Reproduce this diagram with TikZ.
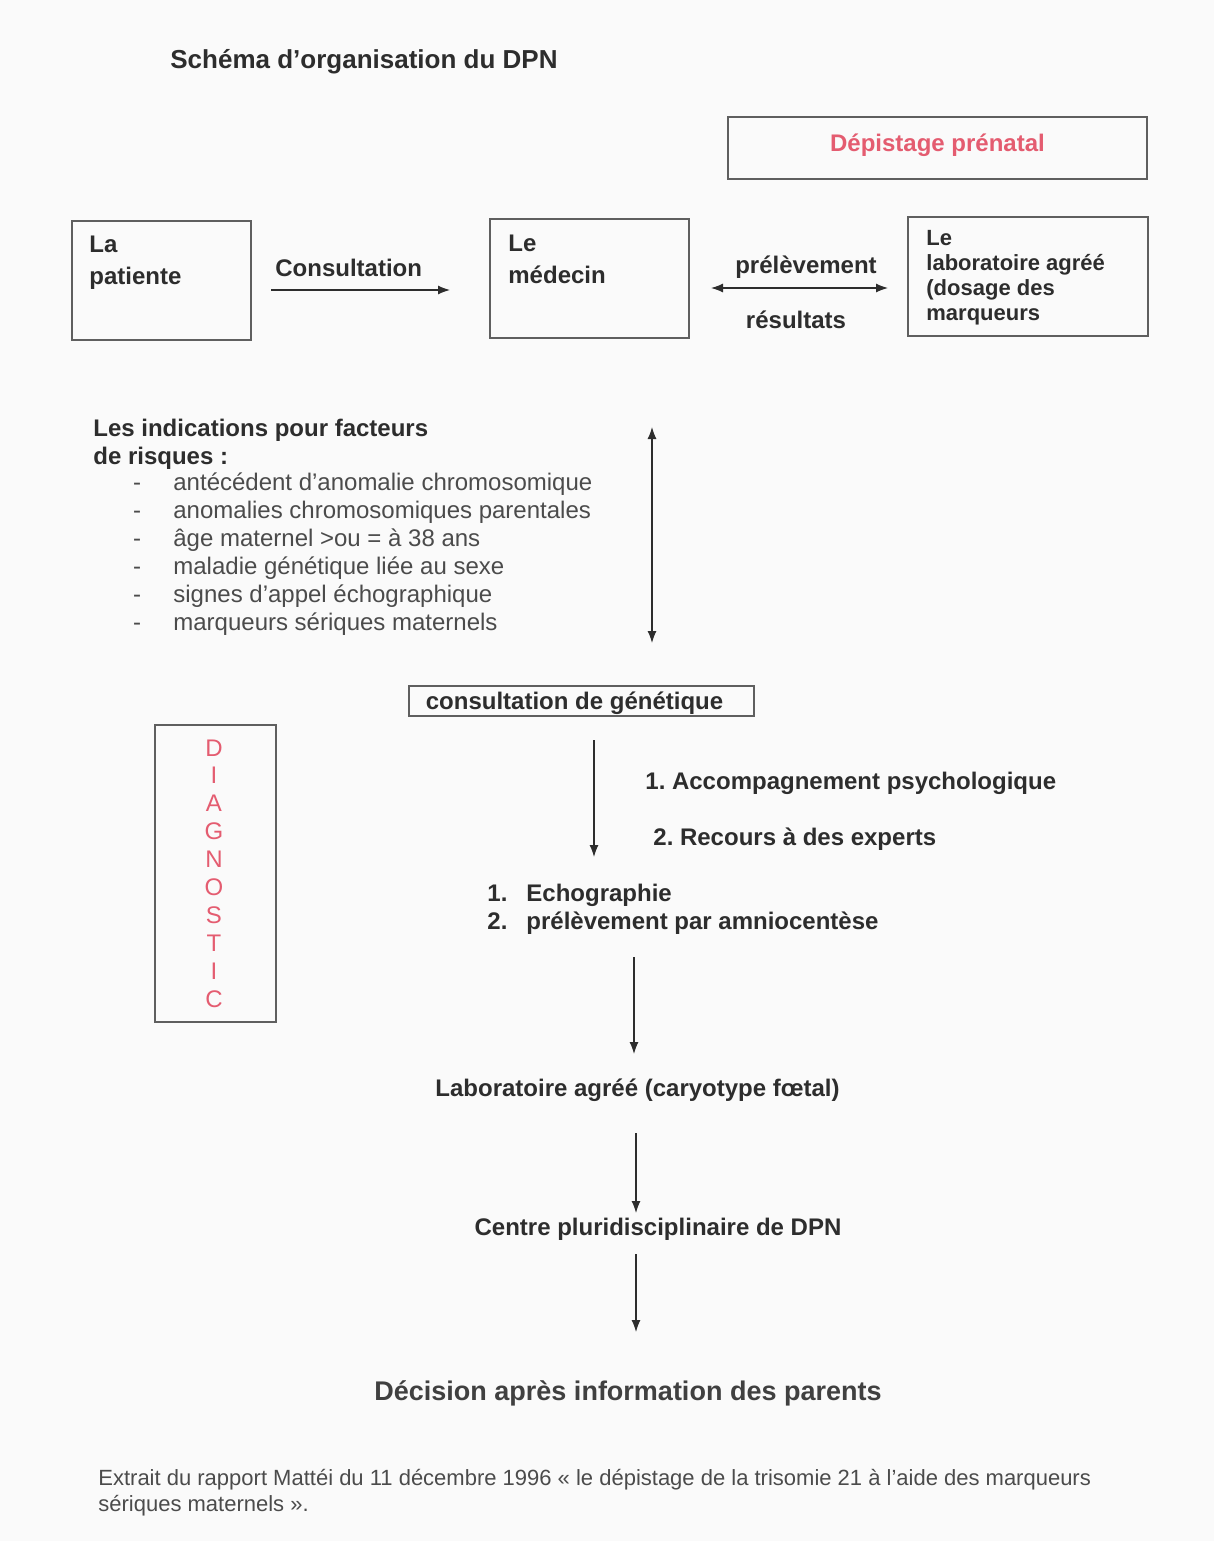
\documentclass[tikz,border=0pt]{standalone}
\usepackage{fontspec}
\setmainfont{Liberation Sans}
\usetikzlibrary{arrows.meta}
\definecolor{ink}{RGB}{45,45,45}
\definecolor{soft}{RGB}{75,75,75}
\definecolor{rose}{RGB}{228,92,112}
\definecolor{boxline}{RGB}{95,95,95}
\definecolor{paper}{RGB}{250,250,250}
\frenchspacing

\begin{document}
\begin{tikzpicture}[x=0.5pt,y=-0.5pt,
    box/.style={draw=boxline,line width=0.75pt,inner sep=0pt},
    heavy/.style={font=\fontsize{12}{16}\selectfont\bfseries,text=ink,inner sep=0pt,align=left},
    lite/.style={font=\fontsize{12}{14}\selectfont,text=soft,inner sep=0pt,anchor=base west},
    arr/.style={-{Latex[length=6pt,width=4.5pt]},line width=0.6pt,draw=ink},
    dbl/.style={{Latex[length=6pt,width=4.5pt]}-{Latex[length=6pt,width=4.5pt]},line width=0.6pt,draw=ink}]
    \fill[paper] (0,0) rectangle (1214,1541);
    \useasboundingbox (0,0) rectangle (1214,1541);
    \node[heavy,font=\fontsize{13}{16}\selectfont\bfseries,anchor=base west] (title) at (170,69) {Schéma d’organisation du DPN};
    \node[box,minimum width=209.5pt,minimum height=31pt] (depist) at (937.5,148) {};
    \node[heavy,text=rose,anchor=base] (depisttxt) at (937.5,151) {Dépistage prénatal};
    \node[box,minimum width=89.5pt,minimum height=59.5pt] (patiente) at (161.5,280.5) {};
    \node[heavy,anchor=north west] (patientetxt) at (89,236) {La\\patiente};
    \node[box,minimum width=99.5pt,minimum height=59.5pt] (medecin) at (589.5,278.5) {};
    \node[heavy,anchor=north west] (medecintxt) at (508,235) {Le\\médecin};
    \node[box,minimum width=120pt,minimum height=59.5pt] (labo) at (1028,276.5) {};
    \node[heavy,font=\fontsize{11}{12.5}\selectfont\bfseries,anchor=north west] (labotxt) at (926,230) {Le\\laboratoire agréé\\(dosage des\\marqueurs};
    \coordinate (consultA) at (271,290);
    \coordinate (consultB) at (450,290);
    \draw[arr] (consultA) -- (consultB);
    \node[heavy,anchor=base west] (consult) at (275,276) {Consultation};
    \coordinate (echangeA) at (711,288);
    \coordinate (echangeB) at (888,288);
    \draw[dbl] (echangeA) -- (echangeB);
    \node[heavy,anchor=base] (prelev) at (806,273) {prélèvement};
    \node[heavy,anchor=base] (result) at (796,328) {résultats};
    \node[heavy,font=\fontsize{12}{14}\selectfont\bfseries,anchor=north west] (indic) at (93,419) {Les indications pour facteurs\\de risques :};
    \foreach \t [count=\i from 0] in {antécédent d’anomalie chromosomique,anomalies chromosomiques parentales,âge maternel >ou = à 38 ans,maladie génétique liée au sexe,signes d’appel échographique,marqueurs sériques maternels}{
        \node[lite,anchor=base] (dash\i) at (137,{490+28*\i}) {-};
        \node[lite] (risk\i) at (173,{490+28*\i}) {\t};
    }
    \coordinate (indicA) at (652,427);
    \coordinate (indicB) at (652,643);
    \draw[dbl] (indicA) -- (indicB);
    \node[box,minimum width=172.5pt,minimum height=15pt] (genet) at (581.5,701) {};
    \node[heavy,anchor=base] (genettxt) at (574.5,709) {consultation de génétique};
    \node[box,minimum width=60.5pt,minimum height=148.5pt] (diag) at (215.5,873.5) {};
    \foreach \l [count=\i from 0] in {D,I,A,G,N,O,S,T,I,C}
        \node[lite,text=rose,anchor=base] (d\i) at (214,{756+27.9*\i}) {\l};
    \coordinate (genetA) at (594,740);
    \coordinate (genetB) at (594,857);
    \draw[arr] (genetA) -- (genetB);
    \node[heavy,anchor=base west] (accomp) at (645,789) {1. Accompagnement psychologique};
    \node[heavy,anchor=base west] (recours) at (653,845) {2. Recours à des experts};
    \foreach \n/\t [count=\i from 0] in {1./Echographie,2./prélèvement par amniocentèse}{
        \node[heavy,anchor=base west] (num\i) at (487,{901+28*\i}) {\n};
        \node[heavy,anchor=base west] (echo\i) at (526,{901+28*\i}) {\t};
    }
    \coordinate (echoA) at (634,957);
    \coordinate (echoB) at (634,1054);
    \draw[arr] (echoA) -- (echoB);
    \node[heavy,anchor=base] (caryo) at (637.5,1096) {Laboratoire agréé (caryotype fœtal)};
    \coordinate (caryoA) at (636,1133);
    \coordinate (caryoB) at (636,1213);
    \draw[arr] (caryoA) -- (caryoB);
    \node[heavy,anchor=base] (centre) at (658,1235) {Centre pluridisciplinaire de DPN};
    \coordinate (centreA) at (636,1254);
    \coordinate (centreB) at (636,1332);
    \draw[arr] (centreA) -- (centreB);
    \node[heavy,font=\fontsize{13.5}{16}\selectfont\bfseries,text=black!75,anchor=base] (decision) at (628,1400) {Décision après information des parents};
    \node[lite,font=\fontsize{11}{13}\selectfont,align=left,anchor=north west] (source) at (98,1469) {Extrait du rapport Mattéi du 11 décembre 1996 « le dépistage de la trisomie 21 à l’aide des marqueurs\\sériques maternels ».};
\end{tikzpicture}
\end{document}
